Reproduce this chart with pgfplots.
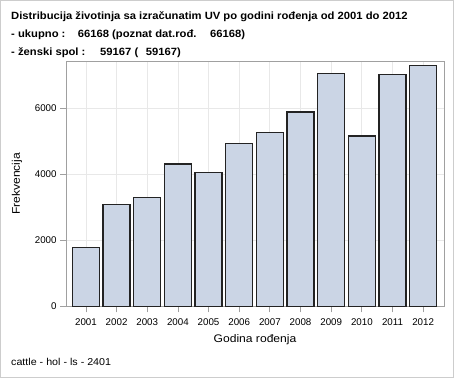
\documentclass[border=0pt]{standalone}
\usepackage{pgfplots}
\pgfplotsset{compat=1.18}
\usepackage{fontspec}
\setmainfont{Liberation Sans}
\newfontfamily\wide{Liberation Sans}[FakeStretch=1.07]
\newfontfamily\widex{Liberation Sans}[FakeStretch=1.1]
\definecolor{barfill}{RGB}{203,213,229}
\definecolor{framegray}{RGB}{160,160,160}
\definecolor{gridgray}{RGB}{232,232,232}
\definecolor{bordergray}{RGB}{205,205,205}
\definecolor{baredge}{RGB}{35,35,35}
\begin{document}
\fontsize{9.75bp}{12bp}\selectfont
\begin{tikzpicture}[x=1bp,y=1bp]
\useasboundingbox (0,0) rectangle (454,378);
\fill[white] (0,0) rectangle (454,378);
\draw[bordergray, line width=1bp] (0.5,0.5) rectangle (453.5,377.5);
% title
\tikzset{ttl/.style={anchor=base west, inner sep=0pt, font=\wide\bfseries\fontsize{10.5bp}{12bp}\selectfont}}
\node[ttl] at (11,358.7) {Distribucija životinja sa izračunatim UV po godini rođenja od 2001 do 2012};
\node[ttl] at (11,341) {- ukupno :};
\node[ttl] at (77.7,341) {66168 (poznat dat.rođ.};
\node[ttl] at (210,341) {66168)};
\node[ttl] at (11,323) {- ženski spol :};
\node[ttl] at (100,323) {59167 (};
\node[ttl] at (145.7,323) {59167)};
% footer
\node[anchor=base west, inner sep=0pt, font=\wide\fontsize{10bp}{12bp}\selectfont] at (11,12.3) {cattle - hol - ls - 2401};
\begin{axis}[
  at={(66bp,71.7bp)}, anchor=south west,
  scale only axis, width=378bp, height=244.6bp,
  xmin=-0.65, xmax=11.68, ymin=0, ymax=7412,
  ybar, bar width=27bp,
  xtick={0,...,11},
  xticklabels={2001,2002,2003,2004,2005,2006,2007,2008,2009,2010,2011,2012},
  ytick={0,2000,4000,6000},
  /pgf/number format/1000 sep={},
  /pgf/number format/assume math mode=true,
  xtick pos=lower, ytick pos=left,
  tick align=outside, major tick length=6bp,
  tick style={framegray, line width=0.8bp},
  axis line style={framegray, line width=0.8bp},
  grid=major, major grid style={gridgray, line width=0.8bp},
  ticklabel style={font=\fontsize{9.75bp}{12bp}\selectfont},
  xticklabel style={yshift=-3bp},
  label style={font=\widex\fontsize{11bp}{12bp}\selectfont},
  xlabel={Godina rođenja},
  ylabel={Frekvencija},
  xlabel style={at={(axis description cs:0.5,0)}, anchor=base, yshift=-36.2bp},
  ylabel style={at={(axis description cs:-0.1296,0.5)}, anchor=center},
]
\addplot[fill=barfill, draw=baredge, line width=1.2bp] coordinates {
(0,1780) (1,3085) (2,3298) (3,4310) (4,4055) (5,4945) (6,5258) (7,5885) (8,7055) (9,5158) (10,7036) (11,7297)
};
\end{axis}
\end{tikzpicture}
\end{document}
